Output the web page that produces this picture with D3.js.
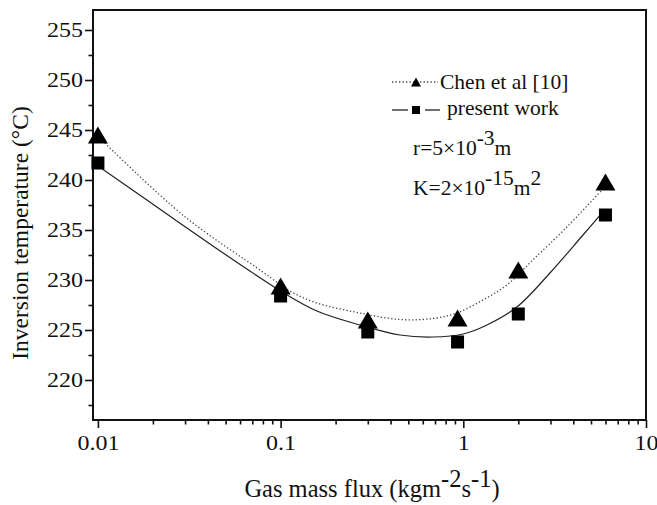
<!DOCTYPE html>
<html>
<head>
<meta charset="utf-8">
<script src="https://cdn.jsdelivr.net/npm/d3@7"></script>
<style>
  html, body { margin: 0; padding: 0; background: #fff; }
  svg { display: block; }
</style>
</head>
<body>
<svg id="chart" width="657" height="505"></svg>
<script>
// ---- data ----
const fluxValues = [0.01, 0.1, 0.3, 0.93, 2, 6];
const chenTemps = [244.5, 229.4, 226.0, 226.2, 231.0, 239.8];
const presentTemps = [241.7, 228.4, 224.8, 223.8, 226.6, 236.5];

// smooth fitted curves
const chenFitX = [0.0109, 0.0296, 0.080, 0.1124, 0.158, 0.2717, 0.450, 0.682, 0.922, 1.28, 1.733, 2.40, 3.69, 5.74];
const chenFitY = [243.7, 236.4, 230.8, 228.9, 227.7, 226.7, 226.05, 226.15, 226.7, 228.0, 229.5, 232.0, 235.3, 239.0];
const presentFitX = [0.0102, 0.01854, 0.0426, 0.0679, 0.1, 0.158, 0.2717, 0.450, 0.682, 1.0, 1.347, 1.965, 2.98, 4.52, 5.81];
const presentFitY = [241.3, 238.0, 233.4, 230.9, 228.9, 226.9, 225.5, 224.5, 224.3, 224.6, 225.5, 227.3, 230.7, 234.5, 236.8];

const xTickValues = [0.01, 0.1, 1, 10];
const xTickLabels = ["0.01", "0.1", "1", "10"];
const yTickValues = [220, 225, 230, 235, 240, 245, 250, 255];
const yMinorValues = [217.5, 222.5, 227.5, 232.5, 237.5, 242.5, 247.5, 252.5];

const seriesNames = ["Chen et al [10]", "present work"];

// ---- layout ----
const FONT = '"Liberation Serif", "Times New Roman", serif';
const L = 93, R = 646, T = 10, B = 420;
const svg = d3.select("#chart");

const x = d3.scaleLog().domain([0.0094, 10]).range([L, R]);
const y = d3.scaleLinear().domain([216, 257]).range([B, T]);

// minor x ticks
const xMinor = [];
[0.01, 0.1, 1].forEach(d => { for (let k = 2; k <= 9; k++) xMinor.push(+(d * k).toPrecision(3)); });

// axes
const gx = svg.append("g").attr("transform", `translate(0,${B})`);
gx.call(d3.axisBottom(x).tickValues(xMinor).tickSize(4.5).tickFormat(""));
const gxMaj = svg.append("g").attr("transform", `translate(0,${B})`);
gxMaj.call(d3.axisBottom(x).tickValues(xTickValues).tickSize(8).tickPadding(8)
  .tickFormat((d, i) => xTickLabels[i]));

const gy = svg.append("g").attr("transform", `translate(${L},0)`);
gy.call(d3.axisLeft(y).tickValues(yMinorValues).tickSize(4.5).tickFormat(""));
const gyMaj = svg.append("g").attr("transform", `translate(${L},0)`);
gyMaj.call(d3.axisLeft(y).tickValues(yTickValues).tickSize(8).tickPadding(2)
  .tickFormat(d3.format("d")));

svg.selectAll(".domain").remove();
svg.selectAll(".tick line").attr("stroke", "#111").attr("stroke-width", 1.6);
svg.selectAll(".tick text").attr("font-size", 20).attr("fill", "#111");

// frame
svg.append("rect").attr("x", L).attr("y", T).attr("width", R - L).attr("height", B - T)
  .attr("fill", "none").attr("stroke", "#111").attr("stroke-width", 2);

// fitted curves
const line = d3.line().x(d => x(d[0])).y(d => y(d[1])).curve(d3.curveCatmullRom.alpha(0.5));
svg.append("path").datum(chenFitX.map((v, i) => [v, chenFitY[i]]))
  .attr("d", line).attr("fill", "none").attr("stroke", "#444")
  .attr("stroke-width", 1.3).attr("stroke-dasharray", "1.3,2.2");
svg.append("path").datum(presentFitX.map((v, i) => [v, presentFitY[i]]))
  .attr("d", line).attr("fill", "none").attr("stroke", "#222").attr("stroke-width", 1.2);

// markers
const triPath = (w, h) => `M0,${-h / 2}L${w / 2},${h / 2}L${-w / 2},${h / 2}Z`;
svg.append("g").selectAll("rect").data(fluxValues.map((v, i) => [v, presentTemps[i]]))
  .join("rect").attr("x", d => x(d[0]) - 6.5).attr("y", d => y(d[1]) - 6.5)
  .attr("width", 13).attr("height", 13).attr("fill", "#000");
svg.append("g").selectAll("path").data(fluxValues.map((v, i) => [v, chenTemps[i]]))
  .join("path").attr("d", triPath(20, 17))
  .attr("transform", d => `translate(${x(d[0])},${y(d[1])})`).attr("fill", "#000");

// legend
const lg = svg.append("g");
lg.append("line").attr("x1", 392).attr("x2", 438).attr("y1", 82).attr("y2", 82)
  .attr("stroke", "#444").attr("stroke-width", 1.3).attr("stroke-dasharray", "1.3,2.2");
lg.append("path").attr("d", triPath(10, 9)).attr("transform", "translate(416,82)").attr("fill", "#000");
lg.append("text").attr("x", 440).attr("y", 89).attr("font-size", 21.5).text(seriesNames[0]);

lg.append("line").attr("x1", 392).attr("x2", 408).attr("y1", 110).attr("y2", 110)
  .attr("stroke", "#222").attr("stroke-width", 1.3);
lg.append("line").attr("x1", 425).attr("x2", 440).attr("y1", 110).attr("y2", 110)
  .attr("stroke", "#222").attr("stroke-width", 1.3);
lg.append("rect").attr("x", 412).attr("y", 106).attr("width", 8).attr("height", 8).attr("fill", "#000");
lg.append("text").attr("x", 447).attr("y", 115).attr("font-size", 21.5).text(seriesNames[1]);

const t1 = lg.append("text").attr("x", 413).attr("y", 155).attr("font-size", 21.5);
t1.append("tspan").text("r=5×10");
t1.append("tspan").attr("dy", -10).text("-3");
t1.append("tspan").attr("dy", 10).text("m");

const t2 = lg.append("text").attr("x", 413).attr("y", 195).attr("font-size", 21.5);
t2.append("tspan").text("K=2×10");
t2.append("tspan").attr("dy", -10).text("-15");
t2.append("tspan").attr("dy", 10).text("m");
t2.append("tspan").attr("dy", -10).text("2");

// axis titles
const xt = svg.append("text").attr("x", 372).attr("y", 497).attr("text-anchor", "middle")
  .attr("font-size", 24.5);
xt.append("tspan").text("Gas mass flux (kgm");
xt.append("tspan").attr("dy", -10).text("-2");
xt.append("tspan").attr("dy", 10).text("s");
xt.append("tspan").attr("dy", -10).text("-1");
xt.append("tspan").attr("dy", 10).text(")");

svg.append("text").attr("transform", "translate(28,233) rotate(-90)")
  .attr("text-anchor", "middle").attr("font-size", 23.5)
  .text("Inversion temperature (°C)");

// serif font everywhere
svg.selectAll("g").attr("font-family", null);
svg.selectAll("text").style("font-family", FONT).attr("fill", "#111");

// tick labels in the reference are drawn wider than the font's natural width
svg.selectAll(".tick text").each(function () {
  const w = this.getComputedTextLength();
  if (w > 0) d3.select(this).attr("textLength", w * 1.2).attr("lengthAdjust", "spacingAndGlyphs");
});
</script>
</body>
</html>
